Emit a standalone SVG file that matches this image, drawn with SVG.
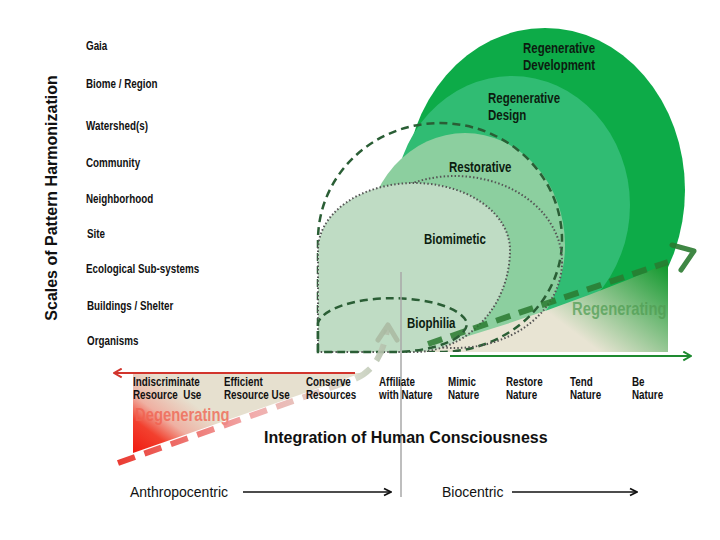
<svg xmlns="http://www.w3.org/2000/svg" width="720" height="540" viewBox="0 0 720 540">
<style>
.lbl{font-family:"Liberation Sans",Arial,sans-serif;font-weight:bold;font-size:12px;fill:#111}
.zone{font-family:"Liberation Sans",Arial,sans-serif;font-weight:bold;font-size:14px;fill:#0c1c10}
.big{font-family:"Liberation Sans",Arial,sans-serif;font-weight:bold;font-size:18.5px}
.ax{font-family:"Liberation Sans",Arial,sans-serif;font-weight:bold;font-size:16px;fill:#111}
.cen{font-family:"Liberation Sans",Arial,sans-serif;font-size:14px;fill:#111}
.dash{fill:none;stroke:#2a5e35;stroke-width:2.5;stroke-dasharray:8 5}
.dot{fill:none;stroke:#555;stroke-width:2;stroke-dasharray:1.5 2.2}
</style>
<defs>
<clipPath id="above"><rect x="0" y="0" width="720" height="352"/></clipPath>
<linearGradient id="gRegen" gradientUnits="userSpaceOnUse" x1="600" y1="352" x2="668" y2="262">
<stop offset="0" stop-color="#e8e4d3"/><stop offset="1" stop-color="#0a9628"/>
</linearGradient>
<linearGradient id="gDegen" gradientUnits="userSpaceOnUse" x1="133" y1="453" x2="178" y2="392">
<stop offset="0" stop-color="#f01a10"/><stop offset="0.36" stop-color="#f2402e"/><stop offset="0.62" stop-color="#efb0a2"/><stop offset="1" stop-color="#e6e0cf"/>
</linearGradient>
<linearGradient id="gRedDash" gradientUnits="userSpaceOnUse" x1="118" y1="0" x2="392" y2="0">
<stop offset="0" stop-color="#e8261c"/><stop offset="0.5" stop-color="#f0a4a4"/><stop offset="0.85" stop-color="#d6dacb"/><stop offset="1" stop-color="#aebca6"/>
</linearGradient>
<marker id="mBlk" viewBox="0 0 10 10" refX="9" refY="5" markerWidth="10" markerHeight="10" markerUnits="userSpaceOnUse" orient="auto"><path d="M2,1.5 L9,5 L2,8.5" fill="none" stroke="#111" stroke-width="1.8"/></marker>
<marker id="mRed" viewBox="0 0 10 10" refX="9" refY="5" markerWidth="11" markerHeight="11" markerUnits="userSpaceOnUse" orient="auto"><path d="M2,1 L9,5 L2,9" fill="none" stroke="#d2352d" stroke-width="1.8"/></marker>
<marker id="mGrn" viewBox="0 0 10 10" refX="9" refY="5" markerWidth="11" markerHeight="11" markerUnits="userSpaceOnUse" orient="auto"><path d="M2,1 L9,5 L2,9" fill="none" stroke="#1e8a30" stroke-width="1.8"/></marker>
</defs>

<g id="regenerative-development" clip-path="url(#above)">
<ellipse cx="545" cy="190" rx="140" ry="162" fill="#0dab48"/>
<text class="zone" transform="translate(523,53) scale(0.82,1)"><tspan x="0" y="0">Regenerative</tspan><tspan x="0" y="17">Development</tspan></text>
</g>
<g id="regenerative-design" clip-path="url(#above)">
<ellipse cx="512" cy="205" rx="118" ry="129" fill="#30bc73"/>
<text class="zone" transform="translate(488,103) scale(0.82,1)"><tspan x="0" y="0">Regenerative</tspan><tspan x="0" y="17">Design</tspan></text>
</g>
<g id="restorative" clip-path="url(#above)">
<ellipse cx="465" cy="245" rx="100" ry="112" fill="#8ccf9f"/>
<text class="zone" transform="translate(449,172) scale(0.82,1)">Restorative</text>
</g>

<g id="regenerating">
<path d="M412,352 Q540,318 668,263 L668,352 Z" fill="url(#gRegen)"/>
<text class="big" transform="translate(572,315) scale(0.8,1)" fill="#4f9c52" fill-opacity="0.72">Regenerating</text>
</g>

<g id="restorative-outline" clip-path="url(#above)">
<path class="dash" d="M318,352 L318,240 A122,117 0 0 1 562,240 A122,112 0 0 1 440,352 Z"/>
<ellipse class="dot" cx="455" cy="262" rx="107" ry="86"/>
</g>

<g id="biomimetic">
<path d="M318,352 L318,250 A96,67 0 0 1 510,250 A96,102 0 0 1 414,352 Z" fill="#bfdcc4" stroke="#555" stroke-width="2" stroke-dasharray="1.5 2.2"/>
<text class="zone" transform="translate(424,244) scale(0.82,1)">Biomimetic</text>
</g>

<g id="connectors">
<path d="M428,344 L668,262" fill="none" stroke="#2a7a30" stroke-width="6" stroke-dasharray="15 9" stroke-opacity="0.85"/>
<polyline points="672,245 694,251 681,270" fill="none" stroke="#2a7a30" stroke-width="5" stroke-linecap="round" stroke-linejoin="round" stroke-opacity="0.9"/>
<line x1="450" y1="356" x2="691" y2="356" stroke="#1e8a30" stroke-width="2" marker-end="url(#mGrn)"/>
</g>

<g id="biophilia">
<path class="dash" d="M318,352 L318,323 A75,28 0 0 1 467,323 A75,29 0 0 1 392,352 Z" fill="#e3e3d3" fill-opacity="0.9"/>
<text class="zone" transform="translate(407,328) scale(0.82,1)">Biophilia</text>
</g>

<g id="degenerating">
<path d="M133,373 L133,453 L362,373 Z" fill="url(#gDegen)"/>
<text class="big" transform="translate(135,421) scale(0.8,1)" fill="#f0604e" fill-opacity="0.75">Degenerating</text>
</g>

<g id="connectors-2">
<line x1="355" y1="373" x2="114" y2="373" stroke="#d2352d" stroke-width="2" marker-end="url(#mRed)"/>
<path d="M118,463 L352,380 Q381,370 387,330" fill="none" stroke="url(#gRedDash)" stroke-width="6" stroke-dasharray="18 10" stroke-opacity="0.9"/>
<polyline points="378,340 388,325 397,340" fill="none" stroke="#a9b9a1" stroke-width="5" stroke-linecap="round" stroke-linejoin="round" stroke-opacity="0.85"/>
<line x1="401" y1="272" x2="401" y2="497" stroke="#a8a8a8" stroke-width="1.5"/>
<line x1="243" y1="492" x2="391" y2="492" stroke="#111" stroke-width="1.5" marker-end="url(#mBlk)"/>
<line x1="512" y1="492" x2="637" y2="492" stroke="#111" stroke-width="1.5" marker-end="url(#mBlk)"/>
</g>

<g id="scales">
<text class="ax" font-size="15.5" transform="translate(57,198) rotate(-90)" text-anchor="middle">Scales of Pattern Harmonization</text>
<text class="lbl" transform="translate(86,50) scale(0.82,1)">Gaia</text>
<text class="lbl" transform="translate(86,88) scale(0.82,1)">Biome / Region</text>
<text class="lbl" transform="translate(86,130) scale(0.82,1)">Watershed(s)</text>
<text class="lbl" transform="translate(86,167) scale(0.82,1)">Community</text>
<text class="lbl" transform="translate(86,203) scale(0.82,1)">Neighborhood</text>
<text class="lbl" transform="translate(87,238) scale(0.82,1)">Site</text>
<text class="lbl" transform="translate(86,273) scale(0.82,1)">Ecological Sub-systems</text>
<text class="lbl" transform="translate(87,310) scale(0.82,1)">Buildings / Shelter</text>
<text class="lbl" transform="translate(87,345) scale(0.82,1)">Organisms</text>
</g>

<g id="integration">
<text class="lbl" transform="translate(133,386) scale(0.82,1)"><tspan x="0" y="0">Indiscriminate</tspan><tspan x="0" y="13">Resource&#160; Use</tspan></text>
<text class="lbl" transform="translate(224,386) scale(0.82,1)"><tspan x="0" y="0">Efficient</tspan><tspan x="0" y="13">Resource Use</tspan></text>
<text class="lbl" transform="translate(306,386) scale(0.82,1)"><tspan x="0" y="0">Conserve</tspan><tspan x="0" y="13">Resources</tspan></text>
<text class="lbl" transform="translate(379,386) scale(0.82,1)"><tspan x="0" y="0">Affiliate</tspan><tspan x="0" y="13">with Nature</tspan></text>
<text class="lbl" transform="translate(448,386) scale(0.82,1)"><tspan x="0" y="0">Mimic</tspan><tspan x="0" y="13">Nature</tspan></text>
<text class="lbl" transform="translate(506,386) scale(0.82,1)"><tspan x="0" y="0">Restore</tspan><tspan x="0" y="13">Nature</tspan></text>
<text class="lbl" transform="translate(570,386) scale(0.82,1)"><tspan x="0" y="0">Tend</tspan><tspan x="0" y="13">Nature</tspan></text>
<text class="lbl" transform="translate(632,386) scale(0.82,1)"><tspan x="0" y="0">Be</tspan><tspan x="0" y="13">Nature</tspan></text>
<text class="ax" x="264" y="443">Integration of Human Consciousness</text>
<text class="cen" x="130" y="497">Anthropocentric</text>
<text class="cen" x="442" y="497">Biocentric</text>
</g>
</svg>
